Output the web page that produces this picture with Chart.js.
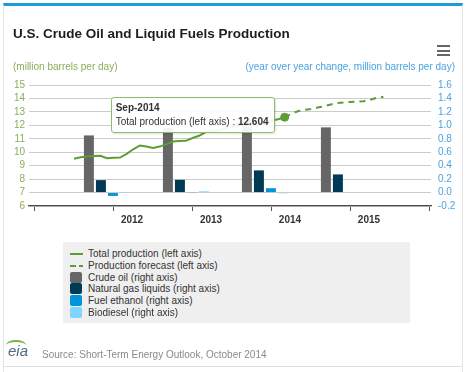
<!DOCTYPE html>
<html>
<head>
<meta charset="utf-8">
<script src="https://cdn.jsdelivr.net/npm/chart.js@4.4.0/dist/chart.umd.min.js"></script>
<style>
  html, body { margin: 0; padding: 0; background: #fff; }
  body { width: 466px; height: 372px; position: relative; overflow: hidden;
         font-family: "Liberation Sans", Arial, sans-serif; }
  #frame { position: absolute; left: 3px; top: 3px; width: 458px; height: 380px;
           border: 1px solid #e3e3e3; border-top: 3px solid #1b9bd7; }
  #chart { position: absolute; left: 0; top: 0; }
  .txt { position: absolute; white-space: nowrap; }
  #title { left: 13px; top: 26px; font-size: 13.5px; font-weight: bold; color: #1d1d1d; line-height: 16px; }
  #ytl { left: 13px; top: 60px; font-size: 10px; line-height: 13px; color: #8aad5a; }
  #ytr { right: 11px; top: 60px; font-size: 10px; line-height: 13px; color: #4aa3df; }
  #menu { position: absolute; left: 437px; top: 45px; width: 13px; }
  #menu div { height: 2px; background: #666; margin-bottom: 2.5px; }
  #legend { position: absolute; left: 63px; top: 242px; width: 347px; height: 81px;
            background: #efefef; padding-top: 6px; box-sizing: border-box; }
  .li { position: relative; height: 11.8px; font-size: 10px; line-height: 11.8px; color: #333; }
  .li .sym { position: absolute; left: 7px; }
  .li .lab { position: absolute; left: 25px; top: 0; }
  #source { left: 42px; top: 348px; font-size: 10px; line-height: 13px; color: #8a8a8a; }
  #rule { position: absolute; left: 4px; top: 366px; width: 458px; height: 1px; background: #e0e0e0; }
  #logo { left: 8px; top: 343px; font-size: 15px; line-height: 16px; color: #4d6b83; font-style: italic; }
  #logo span { position: absolute; left: -2px; top: -3px; width: 20px; height: 8px;
               border-top: 2px solid #79b04a; border-radius: 50% 50% 0 0; }
  #tip { position: absolute; display: none; background: rgba(255,255,255,0.92);
         border: 1px solid #8cc068; border-radius: 3px; padding: 3px 5px 4px 4px;
         font-size: 10px; line-height: 13.5px; color: #333; white-space: nowrap;
         box-shadow: 1px 1px 2px rgba(0,0,0,0.12); }
  #tip .t { font-weight: bold; }
</style>
</head>
<body>
<div id="frame"></div>
<canvas id="chart" width="466" height="372"></canvas>
<div class="txt" id="title">U.S. Crude Oil and Liquid Fuels Production</div>
<div class="txt" id="ytl">(million barrels per day)</div>
<div class="txt" id="ytr">(year over year change, million barrels per day)</div>
<div id="menu"><div></div><div></div><div></div></div>
<div id="legend"></div>
<div class="txt" id="logo"><span></span>eia</div>
<div class="txt" id="source">Source: Short-Term Energy Outlook, October 2014</div>
<div id="rule"></div>
<div id="tip"></div>
<script>
// months are counted from Jan 2012
const startYear = 2012;
const monthNames = ['Jan', 'Feb', 'Mar', 'Apr', 'May', 'Jun', 'Jul', 'Aug', 'Sep', 'Oct', 'Nov', 'Dec'];

// total production, Jan-2012 .. Sep-2014 (left axis)
const totalProduction = [
  9.52, 9.62, 9.68, 9.72, 9.74, 9.55, 9.58, 9.60, 9.88, 10.22, 10.50, 10.42,
  10.32, 10.42, 10.58, 10.80, 10.84, 10.85, 11.06, 11.22, 11.50, 11.57, 11.62, 11.78,
  11.88, 11.95, 12.00, 12.05, 12.15, 12.25, 12.35, 12.45, 12.604
];
// forecast, Sep-2014 .. Dec-2015 (left axis)
const forecastStart = 32;
const productionForecast = [
  12.604, 12.85, 13.05, 13.15, 13.22, 13.32, 13.42, 13.55, 13.66, 13.71, 13.74, 13.76,
  13.80, 13.90, 14.05, 14.12
];

// year over year change (right axis)
const barYears = [2012, 2013, 2014, 2015];
const barMonth = 5; // bars sit on June of each year
const crudeOil = [0.85, 0.96, 1.08, 0.97];
const naturalGasLiquids = [0.185, 0.19, 0.33, 0.27];
const fuelEthanol = [-0.05, -0.004, 0.065, null];
const biodiesel = [0.003, 0.018, -0.012, null];

const yearTicks = [2012, 2013, 2014, 2015, 2016];
const yearLabels = ['2012', '2013', '2014', '2015', ''];
const leftTicks = [6, 7, 8, 9, 10, 11, 12, 13, 14, 15];
const rightTicks = [-0.2, 0, 0.2, 0.4, 0.6, 0.8, 1.0, 1.2, 1.4, 1.6];

const green = '#5e9c35';
const monthOf = y => (y - startYear) * 12;
const monthLabel = m => monthNames[m % 12] + '-' + (startYear + Math.floor(m / 12));

Chart.defaults.font.family = '"Liberation Sans", Arial, sans-serif';
Chart.defaults.font.size = 10;

function barSet(label, values, color) {
  return {
    type: 'bar', label: label, yAxisID: 'y2', order: 2,
    data: values.map((v, i) => ({ x: monthOf(barYears[i]) + barMonth, y: v })),
    backgroundColor: color, borderWidth: 0,
    categoryPercentage: 0.608, barPercentage: 0.83
  };
}

function externalTip(context) {
  const tt = context.tooltip;
  const el = document.getElementById('tip');
  if (tt.opacity === 0 || !tt.dataPoints || !tt.dataPoints.length) { el.style.display = 'none'; return; }
  const item = tt.dataPoints[0];
  el.innerHTML = '<div class="t">' + tt.title[0] + '</div><div>' + item.dataset.label +
    ' : <b>' + item.parsed.y.toFixed(3) + '</b></div>';
  el.style.display = 'block';
  el.style.left = (tt.caretX - 10 - el.offsetWidth) + 'px';
  el.style.top = (tt.caretY - 20) + 'px';
}

const chart = new Chart(document.getElementById('chart'), {
  type: 'bar',
  data: {
    datasets: [
      {
        type: 'line', label: 'Total production (left axis)', yAxisID: 'y', order: 0,
        data: totalProduction.map((v, i) => ({ x: i, y: v })),
        borderColor: green, backgroundColor: green, borderWidth: 2, tension: 0,
        pointRadius: 0, pointHoverRadius: 4, pointHoverBorderWidth: 1,
        pointHoverBackgroundColor: green, pointHoverBorderColor: green
      },
      {
        type: 'line', label: 'Production forecast (left axis)', yAxisID: 'y', order: 1,
        data: productionForecast.map((v, i) => ({ x: forecastStart + i, y: v })),
        borderColor: green, backgroundColor: green, borderWidth: 2, borderDash: [6, 5],
        tension: 0, pointRadius: 0, pointHoverRadius: 0
      },
      barSet('Crude oil (right axis)', crudeOil, '#666666'),
      barSet('Natural gas liquids (right axis)', naturalGasLiquids, '#003a54'),
      barSet('Fuel ethanol (right axis)', fuelEthanol, '#0095d9'),
      barSet('Biodiesel (right axis)', biodiesel, '#7fd5ff')
    ]
  },
  options: {
    responsive: false,
    animation: false,
    events: [],
    layout: { padding: { left: 0, right: 0, top: 85, bottom: 141 } },
    plugins: {
      legend: { display: false },
      title: { display: false },
      tooltip: {
        enabled: false,
        external: externalTip,
        callbacks: { title: items => monthLabel(items[0].parsed.x) }
      }
    },
    scales: {
      x: {
        type: 'linear', offset: false,
        min: monthOf(2011) + 5.164, max: monthOf(2016) + 6.23,
        afterBuildTicks: s => { s.ticks = yearTicks.map(y => ({ value: monthOf(y) })); },
        afterFit: s => { s.height = 25; },
        grid: { drawOnChartArea: false, drawTicks: true, tickLength: 5, color: '#555' },
        border: { display: true, color: '#4a4a4a', width: 1.3 },
        ticks: {
          autoSkip: false, maxRotation: 0, padding: 3, labelOffset: 58,
          color: '#333', font: { size: 10, weight: 'bold' },
          callback: (v, i) => yearLabels[i]
        }
      },
      y: {
        position: 'left', min: 6, max: 15,
        afterBuildTicks: s => { s.ticks = leftTicks.map(v => ({ value: v })); },
        afterFit: s => { s.width = 29; },
        grid: { display: true, drawOnChartArea: true, color: '#cccccc', lineWidth: 1, drawTicks: false },
        border: { display: false },
        ticks: { autoSkip: false, padding: 4, color: '#8aad5a', font: { size: 10 } }
      },
      y2: {
        position: 'right', min: -0.2, max: 1.6,
        afterBuildTicks: s => { s.ticks = rightTicks.map(v => ({ value: v })); },
        afterFit: s => { s.width = 35; },
        grid: { drawOnChartArea: false, drawTicks: false },
        border: { display: false },
        ticks: { autoSkip: false, padding: 7, color: '#4aa3df', font: { size: 10 }, callback: v => v.toFixed(1) }
      }
    }
  }
});

// legend built from the chart datasets
const legendBox = document.getElementById('legend');
chart.data.datasets.forEach(ds => {
  const row = document.createElement('div');
  row.className = 'li';
  const sym = document.createElement('span');
  sym.className = 'sym';
  if (ds.type === 'line') {
    sym.style.top = '5px';
    sym.style.width = '13px';
    sym.style.height = '2px';
    sym.style.background = ds.borderDash
      ? 'repeating-linear-gradient(to right,' + ds.borderColor + ' 0 6px, transparent 6px 9px)'
      : ds.borderColor;
  } else {
    sym.style.top = '0px';
    sym.style.width = '12px';
    sym.style.height = '11px';
    sym.style.borderRadius = '2px';
    sym.style.background = ds.backgroundColor;
  }
  const lab = document.createElement('span');
  lab.className = 'lab';
  lab.textContent = ds.label;
  row.appendChild(sym);
  row.appendChild(lab);
  legendBox.appendChild(row);
});

// show the Sep-2014 hover state as in the original picture
const active = [{ datasetIndex: 0, index: forecastStart }];
chart.setActiveElements(active);
chart.update();
const pt = chart.getDatasetMeta(0).data[forecastStart];
chart.tooltip.setActiveElements(active, { x: pt.x, y: pt.y });
</script>
</body>
</html>
